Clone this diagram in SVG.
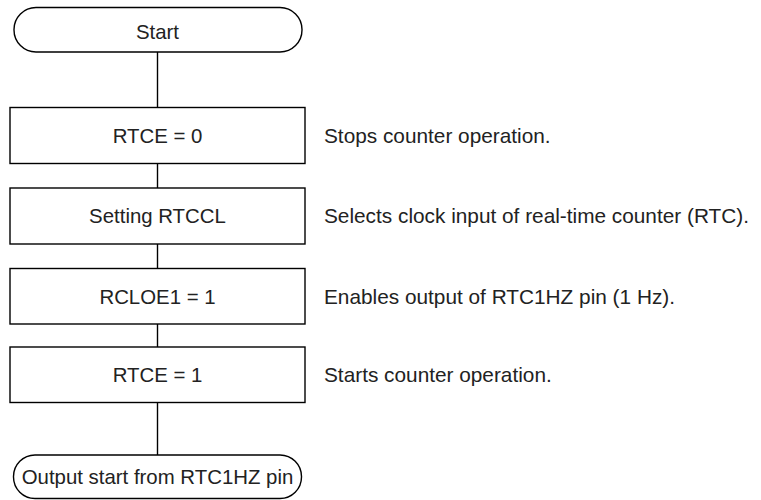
<svg xmlns="http://www.w3.org/2000/svg" width="761" height="500" viewBox="0 0 761 500">
<style>
.shape{fill:#fff;stroke:#000;stroke-width:1.4}
.conn line{stroke:#000;stroke-width:1.4}
text{font-family:"Liberation Sans",Arial,sans-serif;font-size:20.4px;fill:#222}
.c{text-anchor:middle}
.note{font-size:20.8px}
</style>
<rect width="761" height="500" fill="#fff"/>
<g id="connectors" class="conn">
<line x1="157.5" y1="52" x2="157.5" y2="107.5"/>
<line x1="157.5" y1="163.5" x2="157.5" y2="188"/>
<line x1="157.5" y1="244" x2="157.5" y2="268.5"/>
<line x1="157.5" y1="324" x2="157.5" y2="347"/>
<line x1="157.5" y1="402.5" x2="157.5" y2="455"/>
</g>
<g id="start">
<rect class="shape" x="14" y="7.5" width="288" height="44.5" rx="22" ry="22"/>
<text class="c" x="157.5" y="38.5">Start</text>
</g>
<g id="step1">
<rect class="shape" x="10" y="107.5" width="295" height="56"/>
<text class="c" x="157.5" y="142.5">RTCE = 0</text>
<text class="note" x="324" y="142.5">Stops counter operation.</text>
</g>
<g id="step2">
<rect class="shape" x="10" y="188" width="295" height="56"/>
<text class="c" x="157.5" y="223">Setting RTCCL</text>
<text class="note" x="324" y="223">Selects clock input of real-time counter (RTC).</text>
</g>
<g id="step3">
<rect class="shape" x="10" y="268.5" width="295" height="55.5"/>
<text class="c" x="157.5" y="303.5">RCLOE1 = 1</text>
<text class="note" x="324" y="303.5">Enables output of RTC1HZ pin (1 Hz).</text>
</g>
<g id="step4">
<rect class="shape" x="10" y="347" width="295" height="55.5"/>
<text class="c" x="157.5" y="382">RTCE = 1</text>
<text class="note" x="324" y="382">Starts counter operation.</text>
</g>
<g id="end">
<rect class="shape" x="13.5" y="455" width="288" height="43.5" rx="21.5" ry="21.5"/>
<text class="c" x="157.5" y="484">Output start from RTC1HZ pin</text>
</g>
</svg>
